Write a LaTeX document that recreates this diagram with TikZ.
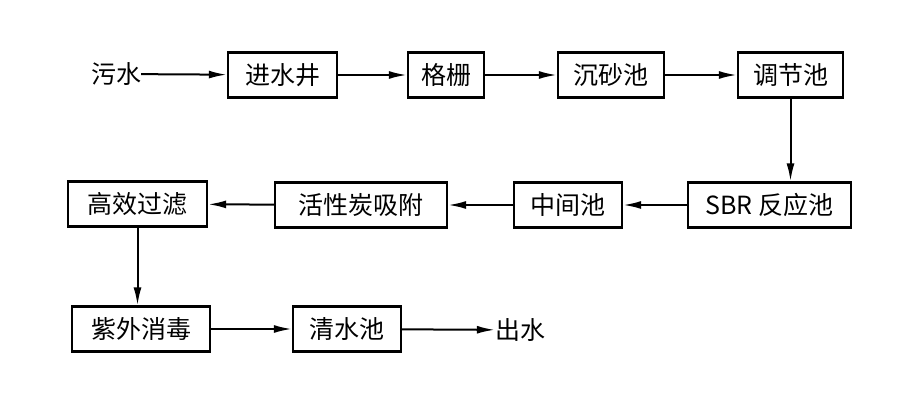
\documentclass[tikz,border=0pt]{standalone}
\usepackage{fontspec}
\newfontfamily\cjk{Noto Sans CJK SC}
\usetikzlibrary{arrows.meta}

\tikzset{
    stagebox/.style={draw, line width=2.4pt, minimum height=45pt, inner sep=0pt, font=\cjk\fontsize{25}{25}\selectfont},
    plaintext/.style={inner sep=0pt, font=\cjk\fontsize{25}{25}\selectfont},
    flow/.style={line width=2pt, -{Latex[length=18pt,width=8pt]}}
}

\begin{document}
\begin{tikzpicture}[x=1pt, y=-1pt]

    \useasboundingbox (0,0) rectangle (900,406);

    % row 1
    \node[plaintext] (wushui) at (116,74) {污水};
    \node[stagebox, minimum width=109pt] (jinshui) at (282.5,75) {进水井};
    \node[stagebox, minimum width=76pt] (geshan) at (446,75) {格栅};
    \node[stagebox, minimum width=106pt] (chensha) at (611,75) {沉砂池};
    \node[stagebox, minimum width=105pt] (tiaojie) at (790.5,75) {调节池};

    % row 2
    \node[stagebox, minimum width=163pt] (sbr) at (769.5,205) {SBR 反应池};
    \node[stagebox, minimum width=108pt] (zhongjian) at (568,205) {中间池};
    \node[stagebox, minimum width=172pt] (huoxing) at (361,205) {活性炭吸附};
    \node[stagebox, minimum width=139pt] (gaoxiao) at (137.5,204) {高效过滤};

    % row 3
    \node[stagebox, minimum width=138pt] (ziwai) at (141,329) {紫外消毒};
    \node[stagebox, minimum width=108pt] (qingshui) at (347,329) {清水池};
    \node[plaintext] (chushui) at (520,330) {出水};

    \draw[flow] (wushui) -- (jinshui);
    \draw[flow] (jinshui) -- (geshan);
    \draw[flow] (geshan) -- (chensha);
    \draw[flow] (chensha) -- (tiaojie);
    \draw[flow] (tiaojie) -- (tiaojie |- sbr.north);
    \draw[flow] (sbr) -- (zhongjian);
    \draw[flow] (zhongjian) -- (huoxing);
    \draw[flow] (huoxing) -- (gaoxiao);
    \draw[flow] (gaoxiao) -- (gaoxiao |- ziwai.north);
    \draw[flow] (ziwai) -- (qingshui);
    \draw[flow] (qingshui) -- (chushui);

\end{tikzpicture}
\end{document}
